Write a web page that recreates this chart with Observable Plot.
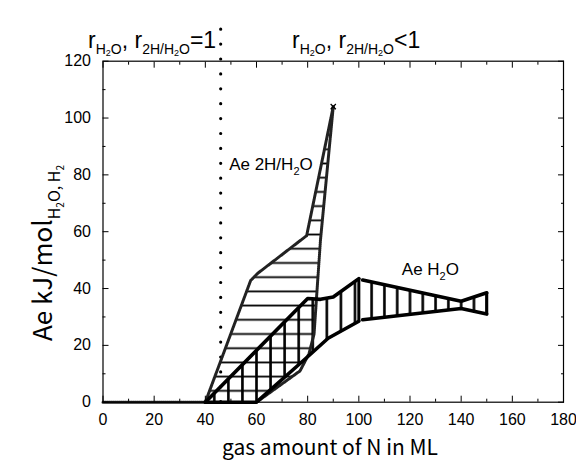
<!DOCTYPE html>
<html><head><meta charset="utf-8">
<script src="https://cdn.jsdelivr.net/npm/d3@7"></script>
<script src="https://cdn.jsdelivr.net/npm/@observablehq/plot@0.6"></script>
<style>body{margin:0;background:#fff} svg{display:block;background:#fff}</style>
</head><body><div id="chart"></div>
<script>
// ---- data ----
const ae2hLeftX  = [0, 40, 57.7, 60.4, 79.6, 90];
const ae2hLeftY  = [0, 0, 42.8, 45.3, 58.6, 104];
const ae2hRightX = [90, 85, 82.5, 80.5, 77, 60];
const ae2hRightY = [104, 57, 24, 17, 11, 0];

const h2oUpper1X = [40, 80, 85, 90, 100];
const h2oUpper1Y = [0, 36.5, 36.2, 37, 43.5];
const h2oLower1X = [40, 60, 80, 88, 100];
const h2oLower1Y = [0, 0, 16, 22.5, 28.5];

const h2oUpper2X = [101.5, 140, 150];
const h2oUpper2Y = [43, 35.5, 38.5];
const h2oLower2X = [101.5, 140, 150];
const h2oLower2Y = [29, 33, 31];

const boundaryN = [46];
const xTicks = [0, 20, 40, 60, 80, 100, 120, 140, 160, 180];
const xMinor = [10, 30, 50, 70, 90, 110, 130, 150, 170];
const yTicks = [0, 20, 40, 60, 80, 100, 120];
const yMinor = [10, 30, 50, 70, 90, 110];

const pts = (xs, ys) => xs.map((x, i) => ({x, y: ys[i]}));
const ae2hLeft = pts(ae2hLeftX, ae2hLeftY);
const ae2hRight = pts(ae2hRightX, ae2hRightY);
const ae2hPoly = ae2hLeft.concat(ae2hRight);
const up1 = pts(h2oUpper1X, h2oUpper1Y), lo1 = pts(h2oLower1X, h2oLower1Y);
const up2 = pts(h2oUpper2X, h2oUpper2Y), lo2 = pts(h2oLower2X, h2oLower2Y);
const band1 = up1.concat(lo1.slice().reverse());
const band2 = up2.concat(lo2.slice().reverse());
const ends = [
  {x: up1[up1.length-1].x, y1: lo1[lo1.length-1].y, y2: up1[up1.length-1].y},
  {x: up2[up2.length-1].x, y1: lo2[lo2.length-1].y, y2: up2[up2.length-1].y}
];

const NARROW = '"Liberation Sans", Arial, sans-serif';
const GOTHIC = '"Noto Sans CJK JP", "Noto Sans", sans-serif';

const plot = Plot.plot({
  width: 576, height: 468,
  marginLeft: 102.5, marginRight: 13, marginTop: 60.7, marginBottom: 66.3,
  x: {domain: [0, 180]},
  y: {domain: [0, 120]},
  style: {fontFamily: NARROW, fontSize: "16px", color: "#000", background: "#fff"},
  marks: [
    Plot.line(ae2hPoly, {x: "x", y: "y", stroke: "none", fill: "url(#hpat)"}),
    Plot.line(band1, {x: "x", y: "y", stroke: "none", fill: "url(#vpat1)"}),
    Plot.line(band2, {x: "x", y: "y", stroke: "none", fill: "url(#vpat2)"}),
    Plot.ruleX(boundaryN, {y1: 0, y2: 136, stroke: "#000", strokeWidth: 3.2, strokeDasharray: "0 14.9", strokeLinecap: "round"}),
    Plot.line(ae2hLeft, {x: "x", y: "y", stroke: "#222", strokeWidth: 3, strokeDasharray: "1.2 0.8"}),
    Plot.line(ae2hRight, {x: "x", y: "y", stroke: "#222", strokeWidth: 3, strokeDasharray: "1.2 0.8"}),
    Plot.dot([ae2hLeft[ae2hLeft.length-1]], {x: "x", y: "y", symbol: "times", r: 2.5, stroke: "#000", strokeWidth: 1.2}),
    Plot.line(up1, {x: "x", y: "y", stroke: "#000", strokeWidth: 3.6, strokeLinejoin: "round"}),
    Plot.line(lo1, {x: "x", y: "y", stroke: "#000", strokeWidth: 3.6, strokeLinejoin: "round"}),
    Plot.line(up2, {x: "x", y: "y", stroke: "#000", strokeWidth: 3.6, strokeLinejoin: "round"}),
    Plot.line(lo2, {x: "x", y: "y", stroke: "#000", strokeWidth: 3.6, strokeLinejoin: "round"}),
    Plot.ruleX(ends, {x: "x", y1: "y1", y2: "y2", stroke: "#000", strokeWidth: 3}),
    Plot.frame({stroke: "#000", strokeWidth: 1.2}),
    Plot.axisX(xTicks, {anchor: "bottom", tickSize: -6, tickPadding: 17, label: null, fontSize: 16}),
    Plot.axisX(xMinor, {anchor: "bottom", tickSize: -3, tickFormat: () => "", label: null}),
    Plot.axisX(xTicks, {anchor: "top", tickSize: -6, tickFormat: () => "", label: null}),
    Plot.axisX(xMinor, {anchor: "top", tickSize: -3, tickFormat: () => "", label: null}),
    Plot.axisY(yTicks, {anchor: "left", tickSize: -6, tickPadding: 18, label: null, fontSize: 16}),
    Plot.axisY(yMinor, {anchor: "left", tickSize: -3, tickFormat: () => "", label: null}),
    Plot.axisY(yTicks, {anchor: "right", tickSize: -6, tickFormat: () => "", label: null}),
    Plot.axisY(yMinor, {anchor: "right", tickSize: -3, tickFormat: () => "", label: null})
  ]
});

const sx = plot.scale("x"), sy = plot.scale("y");
const svg = d3.select(plot);
const defs = svg.insert("defs", ":first-child");

function vpattern(id, x0, step, sw) {
  const w = sx.apply(x0 + step) - sx.apply(x0);
  const p = defs.append("pattern").attr("id", id).attr("patternUnits", "userSpaceOnUse")
    .attr("x", sx.apply(x0) - w / 2).attr("y", 0).attr("width", w).attr("height", 20);
  p.append("line").attr("x1", w / 2).attr("x2", w / 2).attr("y1", -1).attr("y2", 21)
    .attr("stroke", "#000").attr("stroke-width", sw);
}
function hpattern(id, y0, step, sw) {
  const h = sy.apply(y0) - sy.apply(y0 + step);
  const p = defs.append("pattern").attr("id", id).attr("patternUnits", "userSpaceOnUse")
    .attr("x", 0).attr("y", sy.apply(y0) - h / 2).attr("width", 20).attr("height", h);
  p.append("line").attr("y1", h / 2).attr("y2", h / 2).attr("x1", -1).attr("x2", 21)
    .attr("stroke", "#000").attr("stroke-width", sw);
}
hpattern("hpat", 4, 5, 1.8);
vpattern("vpat1", 49, 5.5, 2.6);
vpattern("vpat2", 105, 5, 2.6);

// text with subscripts
function rich(g, parts, attrs) {
  const t = g.append("text").attr("fill", "#000").attr("text-anchor", "start");
  for (const [k, v] of Object.entries(attrs)) t.attr(k, v);
  for (const [s, size, dy] of parts) t.append("tspan").attr("font-size", size).attr("dy", dy).text(s);
  return t;
}
const ann = svg.append("g").attr("font-family", NARROW);
rich(ann, [["Ae 2H/H", 17, 0], ["2", 11, 5], ["O", 17, -5]],
  {x: sx.apply(49.5), y: sy.apply(81.5)});
rich(ann, [["Ae H", 17, 0], ["2", 11, 5], ["O", 17, -5]],
  {x: sx.apply(117), y: sy.apply(44.6)});

const rLabel = (tail) => [["r", 23, 0], ["H", 14, 6], ["2", 9, 2], ["O", 14, -2], [", r", 23, -6],
  ["2H/H", 14, 6], ["2", 9, 2], ["O", 14, -2], [tail, 23, -6]];
rich(ann, rLabel("=1"), {x: sx.apply(boundaryN[0]) - 4, y: 48, "text-anchor": "end"});
rich(ann, rLabel("<1"), {x: 292, y: 48});

// axis titles
rich(svg.append("g").attr("font-family", GOTHIC),
  [["gas amount of N in ML", 21, 0]],
  {x: 330, y: 455, "text-anchor": "middle"});
rich(svg.append("g").attr("font-family", GOTHIC),
  [["Ae kJ/mol", 26, 0], ["H", 16, 8], ["2", 10, 4], ["O, H", 16, -4], ["2", 10, 4]],
  {transform: "translate(52,253) rotate(-90)", "text-anchor": "middle"});

document.getElementById("chart").append(plot);
</script>
</body></html>
